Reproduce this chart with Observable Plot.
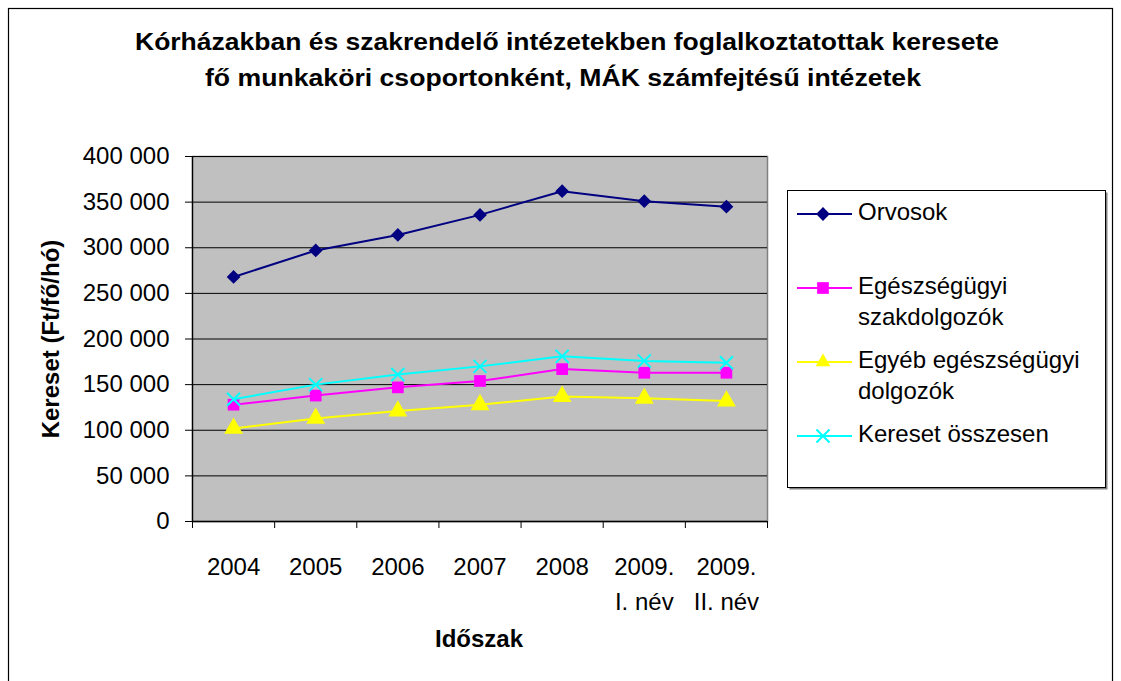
<!DOCTYPE html>
<html>
<head>
<meta charset="utf-8">
<script src="https://cdn.jsdelivr.net/npm/d3@7"></script>
<script src="https://cdn.jsdelivr.net/npm/@observablehq/plot@0.6"></script>
<style>
  html, body { margin: 0; padding: 0; background: white; }
  #chart svg { display: block; }
</style>
</head>
<body>
<div id="chart"></div>
<script>
const categories = ["2004", "2005", "2006", "2007", "2008", "2009.\nI. név", "2009.\nII. név"];
const seriesNames = ["Orvosok", "Egészségügyi\nszakdolgozók", "Egyéb egészségügyi\ndolgozók", "Kereset összesen"];
const orvosok      = [268000, 297000, 314000, 336000, 362000, 351000, 345000];
const szakdolgozok = [128000, 138000, 147000, 154000, 167000, 163000, 163000];
const egyeb        = [102000, 113000, 121000, 128000, 137000, 135000, 132000];
const osszesen     = [134000, 150000, 161000, 170000, 181000, 176000, 174000];
const yTicks = [0, 50000, 100000, 150000, 200000, 250000, 300000, 350000, 400000];

const title1 = "Kórházakban és szakrendelő intézetekben foglalkoztatottak keresete";
const title2 = "fő munkaköri csoportonként, MÁK számfejtésű intézetek";
const yLabel = "Kereset (Ft/fő/hó)";
const xLabel = "Időszak";

const colors = ["#000080", "#ff00ff", "#ffff00", "#00ffff"];
const symbols = ["diamond2", "square", "triangle", "times"];
const radii = [6.2, 6.6, 7, 6];
const allValues = [orvosok, szakdolgozok, egyeb, osszesen];

const series = allValues.map((vals, s) => vals.map((v, i) => ({s, i, x: i + 0.5, y: v})));

const fmt = d => d3.format(",")(d).replace(/,/g, " ");
const font = "'Liberation Sans', Arial, sans-serif";

const lineMarks = [];
series.forEach((data, s) => {
  lineMarks.push(Plot.line(data, {x: "x", y: "y", stroke: colors[s], strokeWidth: 2}));
  if (symbols[s] === "times") {
    lineMarks.push(Plot.dot(data, {x: "x", y: "y", symbol: "times", r: radii[s], stroke: colors[s], strokeWidth: 2}));
  } else {
    lineMarks.push(Plot.dot(data, {x: "x", y: "y", symbol: symbols[s], r: radii[s], fill: colors[s], stroke: "none"}));
  }
});

const plot = Plot.plot({
  width: 1121,
  height: 681,
  marginLeft: 192,
  marginRight: 1121 - 767,
  marginTop: 156,
  marginBottom: 681 - 521,
  style: {fontFamily: font, background: "white", color: "black"},
  x: {domain: [0, 7], axis: null},
  y: {domain: [0, 400000], axis: null},
  marks: [
    Plot.frame({fill: "#c0c0c0", stroke: "#808080", strokeWidth: 1.5}),
    Plot.gridY(yTicks, {stroke: "black", strokeOpacity: 1, strokeWidth: 1}),
    Plot.axisY(yTicks, {label: null, tickSize: 7, tickPadding: 16, tickFormat: fmt, fontSize: 24, stroke: "black"}),
    Plot.axisX(d3.range(8), {label: null, tickSize: 7, tickFormat: () => "", stroke: "black"}),
    Plot.ruleY([0], {stroke: "black", strokeWidth: 1.3}),
    Plot.ruleX([0], {stroke: "black", strokeWidth: 1.3}),
    Plot.text(categories, {x: (d, i) => i + 0.5, y: 0, text: d => d, dy: 29, lineAnchor: "top", lineHeight: 1.46, fontSize: 24, fill: "black"}),
    ...lineMarks
  ]
});

document.getElementById("chart").appendChild(plot);

const svg = d3.select(plot);

// outer border
svg.append("rect").attr("x", 8.5).attr("y", 8.5).attr("width", 1104).attr("height", 700)
  .attr("fill", "none").attr("stroke", "black").attr("stroke-width", 1.2);

// title
const t = svg.append("g").attr("font-family", font).attr("font-weight", "bold").attr("font-size", 23)
  .attr("text-anchor", "middle").attr("fill", "black");
t.append("text").attr("x", 567).attr("y", 50).attr("textLength", 864).attr("lengthAdjust", "spacingAndGlyphs").text(title1);
t.append("text").attr("x", 563).attr("y", 86).attr("textLength", 716).attr("lengthAdjust", "spacingAndGlyphs").text(title2);

// axis titles
svg.append("text").attr("font-family", font).attr("font-weight", "bold").attr("font-size", 24)
  .attr("text-anchor", "middle").attr("transform", "translate(59,339) rotate(-90)").attr("fill", "black").text(yLabel);
svg.append("text").attr("font-family", font).attr("font-weight", "bold").attr("font-size", 24)
  .attr("text-anchor", "middle").attr("x", 479).attr("y", 647).attr("fill", "black").text(xLabel);

// legend
const lg = svg.append("g");
lg.append("rect").attr("x", 789.5).attr("y", 192.5).attr("width", 318).attr("height", 297).attr("fill", "#808080");
lg.append("rect").attr("x", 787.5).attr("y", 190.5).attr("width", 318).attr("height", 297).attr("fill", "white").attr("stroke", "black");
const legY = [214, 288, 362, 436];
const symMap = {diamond2: d3.symbolDiamond2, square: d3.symbolSquare, triangle: d3.symbolTriangle2, times: d3.symbolTimes};
seriesNames.forEach((name, s) => {
  const y = legY[s];
  lg.append("line").attr("x1", 797).attr("x2", 852).attr("y1", y).attr("y2", y).attr("stroke", colors[s]).attr("stroke-width", 2);
  const p = d3.symbol(symMap[symbols[s]], Math.PI * radii[s] * radii[s])();
  const path = lg.append("path").attr("d", p).attr("transform", `translate(823,${y})`);
  if (symbols[s] === "times") path.attr("fill", "none").attr("stroke", colors[s]).attr("stroke-width", 2);
  else path.attr("fill", colors[s]);
  const txt = lg.append("text").attr("font-family", font).attr("font-size", 24).attr("fill", "black").attr("text-anchor", "start");
  name.split("\n").forEach((line, k) => {
    txt.append("tspan").attr("x", 858).attr("y", y + 6 + k * 31).text(line);
  });
});
</script>
</body>
</html>
